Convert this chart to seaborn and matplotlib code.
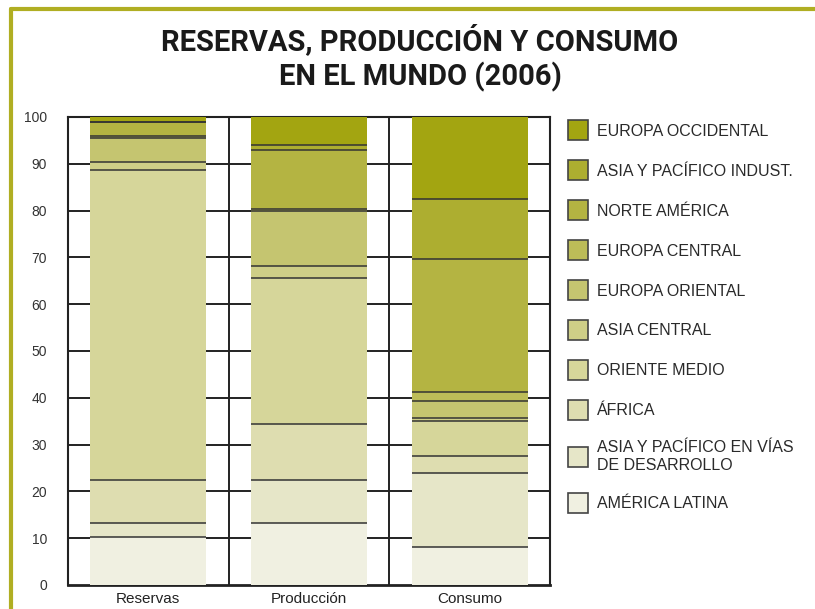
import numpy as np
import pandas as pd
import matplotlib
matplotlib.use("Agg")
import matplotlib.pyplot as plt
from matplotlib.patches import Rectangle
from matplotlib.lines import Line2D
import seaborn as sns

# ---------------- data ----------------
categories = ["Reservas", "Producción", "Consumo"]
regions = ["EUROPA OCCIDENTAL", "ASIA Y PACÍFICO INDUST.", "NORTE AMÉRICA",
           "EUROPA CENTRAL", "EUROPA ORIENTAL", "ASIA CENTRAL", "ORIENTE MEDIO",
           "ÁFRICA", "ASIA Y PACÍFICO EN VÍAS\nDE DESARROLLO", "AMÉRICA LATINA"]
# values (%) per region, order: Reservas, Producción, Consumo
europa_occidental = [1.1, 6.3, 17.6]
asia_pacifico_indust = [0.0, 1.1, 12.8]
norte_america = [3.0, 12.6, 28.4]
europa_central = [0.3, 0.3, 1.9]
europa_oriental = [5.3, 11.8, 3.6]
asia_central = [1.7, 2.6, 0.7]
oriente_medio = [66.2, 31.1, 7.4]
africa = [9.2, 12.1, 3.6]
asia_pacifico_desarrollo = [3.0, 9.2, 15.8]
america_latina = [10.2, 13.2, 8.2]
yticks = [0, 10, 20, 30, 40, 50, 60, 70, 80, 90, 100]

series = [europa_occidental, asia_pacifico_indust, norte_america, europa_central,
          europa_oriental, asia_central, oriente_medio, africa,
          asia_pacifico_desarrollo, america_latina]
colors = ["#A3A511", "#ADAE30", "#B4B442", "#BCBC58", "#C5C570", "#CECE87",
          "#D6D69A", "#DEDDB0", "#E6E6C8", "#F0F0E1"]
palette = dict(zip(regions, colors))

rows = []
for reg, vals in zip(regions, series):
    for i, v in enumerate(vals):
        rows.append({"x": i, "region": reg, "value": v})
df = pd.DataFrame(rows)

# ---------------- figure ----------------
sns.set_style("white")
plt.rcParams["font.family"] = ["Liberation Sans", "DejaVu Sans"]
fig = plt.figure(figsize=(8.15, 6.09), dpi=100)
ax = fig.add_axes([68 / 815, 24 / 609, 482 / 815, 468 / 609])

sns.histplot(data=df, x="x", weights="value", hue="region", hue_order=regions,
             multiple="stack", discrete=True, shrink=0.72, palette=palette,
             alpha=1, linewidth=0, legend=False, ax=ax, zorder=3)

# segment boundary lines from cumulative sums
bar_w = 0.72
stack = np.cumsum(np.array(series[::-1]), axis=0)
for i in range(len(categories)):
    for s in stack[:-1, i]:
        ax.hlines(s, i - bar_w / 2, i + bar_w / 2, color="#333333", lw=1.1, zorder=4)

ax.set_xlim(-0.5, 2.5)
ax.set_ylim(0, 100)
ax.set_yticks(yticks)
ax.set_yticklabels([str(t) for t in yticks], fontsize=10, color="#333333")
ax.set_xticks(range(len(categories)))
ax.set_xticklabels(categories, fontsize=11, color="#222222")
ax.tick_params(axis="both", length=0)
ax.tick_params(axis="y", pad=15)
ax.tick_params(axis="x", pad=5)
ax.set_xlabel("")
ax.set_ylabel("")

for t in yticks[1:-1]:
    ax.axhline(t, color="#222222", lw=1.4, zorder=1)
for xv in [0.5, 1.5]:
    ax.axvline(xv, color="#222222", lw=1.4, zorder=1)
for sp in ax.spines.values():
    sp.set_visible(True)
    sp.set_color("#222222")
    sp.set_linewidth(1.5)
ax.spines["bottom"].set_linewidth(2)

# legend
handles = [Rectangle((0, 0), 1, 1, facecolor=c, edgecolor="#444444", lw=1.2)
           for c in colors]
leg = fig.legend(handles, regions, loc="upper left",
                 bbox_to_anchor=(562 / 815, 1 - 114 / 609), frameon=False,
                 fontsize=11.5, handlelength=1.2, handleheight=1.55,
                 handletextpad=0.6, labelspacing=1.25, borderaxespad=0)
for t in leg.get_texts():
    t.set_color("#2a2a2a")

# title
fig.text(420 / 815, 1 - 58 / 609, "RESERVAS, PRODUCCIÓN Y CONSUMO\nEN EL MUNDO (2006)",
         ha="center", va="center", fontsize=21, fontweight="bold",
         family=["Roboto", "DejaVu Sans"], color="#1a1a1a",
         linespacing=1.22)

# olive frame
olive = "#B0AE22"
fig.add_artist(Line2D([10.5 / 815, 1.0], [1 - 9 / 609, 1 - 9 / 609],
                      color=olive, lw=3, transform=fig.transFigure))
fig.add_artist(Line2D([10.5 / 815, 10.5 / 815], [0, 1 - 9 / 609],
                      color=olive, lw=3, transform=fig.transFigure))

fig.savefig("out.png", dpi=100)
